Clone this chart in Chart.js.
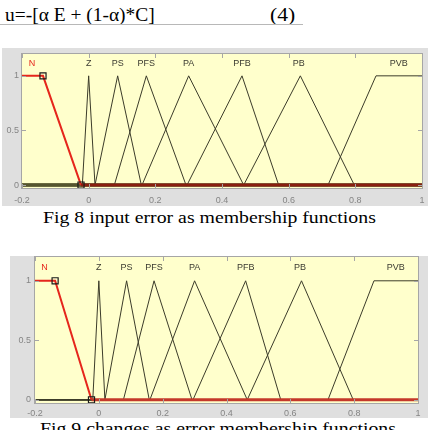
<!DOCTYPE html>
<html>
<head>
<meta charset="utf-8">
<script src="https://cdn.jsdelivr.net/npm/chart.js@4.4.1/dist/chart.umd.min.js"></script>
<style>
  body { margin: 0; background: #fff; width: 432px; height: 430px; overflow: hidden; position: relative; font-family: "Liberation Serif", "Times New Roman", serif; color: #000; }
  .txt { position: absolute; white-space: nowrap; line-height: 1; transform-origin: 0 0; }
  .panel { position: absolute; background: #dfdfdf; }
  .rule { position: absolute; left: 0; top: 24px; width: 303px; height: 1px; background: #b8b8b8; }
</style>
</head>
<body>
<div class="txt" style="left:5px;top:6px;font-size:18px;transform:scaleX(1.08)">u=-[α E + (1-α)*C]</div>
<div class="txt" style="left:270px;top:6px;font-size:18px;transform:scaleX(1.2)">(4)</div>
<div class="rule"></div>

<div class="panel" style="left:2px;top:48px;width:426px;height:158px"><canvas id="errChart"></canvas></div>
<div class="txt" style="left:43px;top:209px;font-size:17.5px;transform:scaleX(1.13)">Fig 8 input error as membership functions</div>

<div class="panel" style="left:10px;top:256px;width:418px;height:162px"><canvas id="chgChart"></canvas></div>
<div class="txt" style="left:40px;top:420px;font-size:17.5px;transform:scaleX(1.13)">Fig 9 changes as error membership functions</div>

<script>
const xTicks = [-0.2, 0, 0.2, 0.4, 0.6, 0.8, 1];
const yTicks = [0, 0.5, 1];
const mfNames = ['N', 'Z', 'PS', 'PFS', 'PA', 'PFB', 'PB', 'PVB'];
const mfLabelX = [-0.17, 0, 0.087, 0.173, 0.30, 0.46, 0.63, 0.93];
const labelLevel = 1.11;

// breakpoints of each membership function, over the whole range
const mfX = [
  [-0.2, -0.137, -0.023, 1],
  [-0.2, -0.019, 0, 0.019, 1],
  [-0.2, 0.019, 0.087, 0.158, 1],
  [-0.2, 0.077, 0.173, 0.292, 1],
  [-0.2, 0.16, 0.30, 0.465, 1],
  [-0.2, 0.295, 0.46, 0.57, 1],
  [-0.2, 0.465, 0.635, 0.797, 1],
  [-0.2, 0.718, 0.862, 1]
];
const mfY = [
  [1, 1, 0, 0],
  [0, 0, 1, 0, 0],
  [0, 0, 1, 0, 0],
  [0, 0, 1, 0, 0],
  [0, 0, 1, 0, 0],
  [0, 0, 1, 0, 0],
  [0, 0, 1, 0, 0],
  [0, 0, 1, 1]
];

const tickFont = { family: '"Liberation Sans", Arial, sans-serif', size: 9 };
const tickColor = '#858585';

const onBase = c => c.p0.parsed.y === 0 && c.p1.parsed.y === 0;

const mfPlot = cfg => ({
  id: 'mfPlot',
  beforeDraw(chart) {
    const { ctx, chartArea: a } = chart;
    ctx.save();
    ctx.fillStyle = '#ffffcc';
    ctx.fillRect(a.left, a.top, a.width, a.height);
    ctx.restore();
  },
  afterDraw(chart) {
    const { ctx, chartArea: a, scales: { x, y } } = chart;
    ctx.save();
    ctx.strokeStyle = '#a6a6a6';
    ctx.lineWidth = 1;
    ctx.strokeRect(a.left - 0.5, a.top - 0.5, a.width + 1, a.height + 1);
    ctx.beginPath();
    xTicks.forEach(v => {
      const px = Math.round(x.getPixelForValue(v)) + 0.5;
      ctx.moveTo(px, a.bottom); ctx.lineTo(px, a.bottom - 4);
      ctx.moveTo(px, a.top); ctx.lineTo(px, a.top + 4);
    });
    yTicks.forEach(v => {
      const py = Math.round(y.getPixelForValue(v)) + 0.5;
      ctx.moveTo(a.left, py); ctx.lineTo(a.left + 4, py);
      ctx.moveTo(a.right, py); ctx.lineTo(a.right - 4, py);
    });
    ctx.stroke();

    ctx.font = '9px "Liberation Sans", Arial, sans-serif';
    ctx.textAlign = 'center';
    ctx.textBaseline = 'middle';
    mfNames.forEach((n, i) => {
      ctx.fillStyle = i === 0 ? cfg.red : '#3a3a30';
      ctx.fillText(n, x.getPixelForValue(mfLabelX[i]), y.getPixelForValue(labelLevel));
    });
    ctx.restore();
  }
});

function drawMfChart(id, cfg) {
  return new Chart(document.getElementById(id), {
    type: 'scatter',
    data: {
      datasets: mfNames.map((name, i) => ({
        label: name,
        data: mfX[i].map((v, j) => ({ x: v, y: mfY[i][j] })),
        showLine: true,
        borderColor: i === 0 ? cfg.red : cfg.line,
        borderWidth: i === 0 ? 2 : 1,
        pointRadius: i === 0 ? [0, 4.3, 4.3, 0] : 0,
        pointStyle: 'rect',
        pointBorderColor: '#1a1a1a',
        pointBackgroundColor: 'rgba(0,0,0,0)',
        pointBorderWidth: 1.2,
        segment: i === 0 ? {
          borderColor: c => onBase(c) ? cfg.baseRed : cfg.red,
          borderWidth: c => onBase(c) ? cfg.baseWidth : 2
        } : {
          borderColor: c => onBase(c) ? cfg.baseLine : cfg.line,
          borderWidth: c => onBase(c) ? cfg.otherBaseWidth : 1
        }
      }))
    },
    options: {
      responsive: true,
      maintainAspectRatio: false,
      animation: false,
      layout: { padding: cfg.padding },
      plugins: { legend: { display: false }, tooltip: { enabled: false } },
      scales: {
        x: {
          type: 'linear', min: -0.2, max: 1,
          afterBuildTicks: s => { s.ticks = xTicks.map(v => ({ value: v })); },
          afterFit: s => { s.height = cfg.xh; s.paddingLeft = 0; s.paddingRight = 0; },
          grid: { display: false, drawTicks: false },
          border: { display: false },
          ticks: { padding: cfg.xPad, color: tickColor, font: tickFont, maxRotation: 0, autoSkip: false,
                   callback: v => String(+v.toFixed(1)) }
        },
        y: {
          type: 'linear', min: -0.027, max: 1.2,
          afterBuildTicks: s => { s.ticks = yTicks.map(v => ({ value: v })); },
          afterFit: s => { s.width = cfg.yw; s.paddingTop = 0; s.paddingBottom = 0; },
          grid: { display: false, drawTicks: false },
          border: { display: false },
          ticks: { padding: cfg.yPad, color: tickColor, font: tickFont, callback: v => String(v) }
        }
      }
    },
    plugins: [mfPlot(cfg)]
  });
}

drawMfChart('errChart', {
  padding: { top: 6, right: 6, left: 0, bottom: 0 },
  yw: 20, xh: 18, xPad: 7, yPad: 3,
  red: '#e5261c', baseRed: '#8a1f10', baseWidth: 3,
  line: '#3c3c2a', baseLine: '#55552f', otherBaseWidth: 2.5
});

drawMfChart('chgChart', {
  padding: { top: 1, right: 10, left: 0, bottom: 0 },
  yw: 25, xh: 15, xPad: 5, yPad: 4,
  red: '#e5261c', baseRed: '#c4382a', baseWidth: 3,
  line: '#3c3c2a', baseLine: '#3c3c2a', otherBaseWidth: 1
});
</script>
</body>
</html>
